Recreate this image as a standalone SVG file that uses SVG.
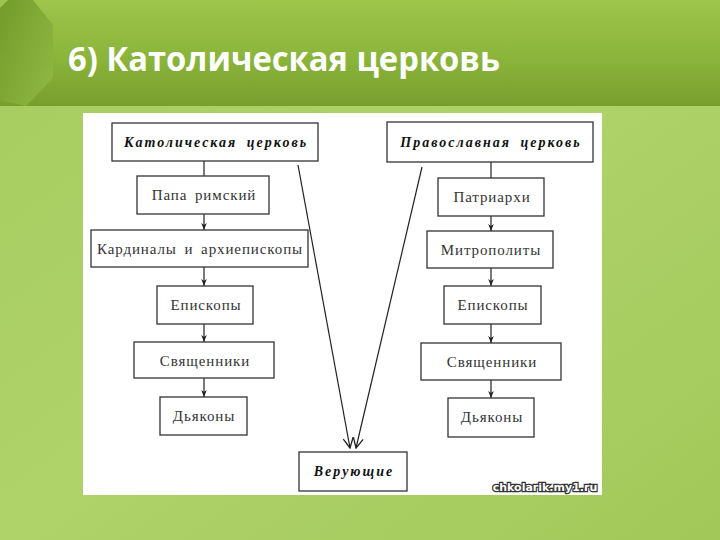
<svg xmlns="http://www.w3.org/2000/svg" width="720" height="540" viewBox="0 0 720 540">
<defs>
<linearGradient id="band" x1="0" y1="0" x2="0" y2="1">
<stop offset="0" stop-color="#9fc54b"/>
<stop offset="0.55" stop-color="#8ab43a"/>
<stop offset="1" stop-color="#789f2e"/>
</linearGradient>
<linearGradient id="bg" x1="0" y1="0" x2="1" y2="1">
<stop offset="0" stop-color="#a6cc5e"/>
<stop offset="0.5" stop-color="#afd269"/>
<stop offset="1" stop-color="#a2c859"/>
</linearGradient>
<linearGradient id="hex" x1="0" y1="0" x2="1" y2="1">
<stop offset="0" stop-color="#6a9424"/>
<stop offset="1" stop-color="#94bd48"/>
</linearGradient>
<marker id="ah" viewBox="0 0 10 10" refX="10" refY="5" markerWidth="7" markerHeight="7" orient="auto" markerUnits="userSpaceOnUse">
<path d="M0,1 L10,5 L0,9 L3,5 Z" fill="#222"/>
</marker>
<marker id="oa" viewBox="0 0 12 12" refX="11" refY="6" markerWidth="12" markerHeight="12" orient="auto" markerUnits="userSpaceOnUse">
<path d="M1,1 L11,6 L1,11" fill="none" stroke="#222" stroke-width="1.3"/>
</marker>
</defs>
<style>
.box{fill:#fff;stroke:#333;stroke-width:1.3}
.t{font-family:"Liberation Serif","DejaVu Serif",serif;font-size:15px;fill:#333;text-anchor:middle;letter-spacing:0.9px;word-spacing:3px}
.h{font-family:"Liberation Serif","DejaVu Serif",serif;font-size:14px;font-weight:bold;font-style:italic;fill:#111;text-anchor:middle;letter-spacing:2px;word-spacing:4px}
.c{stroke:#222;stroke-width:1.2;fill:none}
</style>
<rect x="0" y="0" width="720" height="540" fill="url(#bg)"/>
<rect x="0" y="0" width="720" height="106" fill="url(#band)"/>
<polygon points="8,0 33,0 53,25 53,78 26,106 0,100 0,8" fill="url(#hex)" opacity="0.85"/>
<text x="68" y="71" font-family="'Open Sans','DejaVu Sans',sans-serif" font-weight="bold" font-size="34" fill="#fff" textLength="432" lengthAdjust="spacingAndGlyphs">6) Католическая церковь</text>
<rect x="83" y="113" width="519" height="382" fill="#fff"/>
<g id="connectors">
<line class="c" x1="204" y1="161" x2="204" y2="176"/>
<line class="c" x1="204" y1="214" x2="204" y2="230" marker-end="url(#ah)"/>
<line class="c" x1="204" y1="267" x2="204" y2="286" marker-end="url(#ah)"/>
<line class="c" x1="204" y1="324" x2="204" y2="342" marker-end="url(#ah)"/>
<line class="c" x1="204" y1="378" x2="204" y2="397" marker-end="url(#ah)"/>
<line class="c" x1="491" y1="162" x2="491" y2="178"/>
<line class="c" x1="491" y1="216" x2="491" y2="231" marker-end="url(#ah)"/>
<line class="c" x1="491" y1="268" x2="491" y2="286" marker-end="url(#ah)"/>
<line class="c" x1="491" y1="324" x2="491" y2="343" marker-end="url(#ah)"/>
<line class="c" x1="491" y1="380" x2="491" y2="398" marker-end="url(#ah)"/>
<line class="c" x1="298" y1="165" x2="350" y2="448" marker-end="url(#oa)"/>
<line class="c" x1="422" y1="167" x2="356" y2="448" marker-end="url(#oa)"/>
</g>
<g id="cat">
<rect class="box" x="112" y="123" width="206" height="38"/>
<text class="h" x="216" y="147">Католическая церковь</text>
</g>
<g id="papa">
<rect class="box" x="137" y="176" width="132" height="38"/>
<text class="t" x="204" y="200">Папа римский</text>
</g>
<g id="cardinals">
<rect class="box" x="91" y="230" width="217" height="37"/>
<text class="t" x="200" y="254">Кардиналы и архиепископы</text>
</g>
<g id="episk-l">
<rect class="box" x="157" y="286" width="96" height="38"/>
<text class="t" x="206" y="310">Епископы</text>
</g>
<g id="svyash-l">
<rect class="box" x="134" y="342" width="140" height="36"/>
<text class="t" x="205" y="366">Священники</text>
</g>
<g id="dyak-l">
<rect class="box" x="160" y="397" width="87" height="38"/>
<text class="t" x="204" y="421">Дьяконы</text>
</g>
<g id="orth">
<rect class="box" x="387" y="122" width="206" height="40"/>
<text class="h" x="491" y="147">Православная церковь</text>
</g>
<g id="patr">
<rect class="box" x="438" y="178" width="106" height="38"/>
<text class="t" x="492" y="202">Патриархи</text>
</g>
<g id="mitr">
<rect class="box" x="427" y="231" width="126" height="37"/>
<text class="t" x="491" y="255">Митрополиты</text>
</g>
<g id="episk-r">
<rect class="box" x="444" y="286" width="97" height="38"/>
<text class="t" x="493" y="310">Епископы</text>
</g>
<g id="svyash-r">
<rect class="box" x="421" y="343" width="140" height="37"/>
<text class="t" x="492" y="367">Священники</text>
</g>
<g id="dyak-r">
<rect class="box" x="448" y="398" width="86" height="39"/>
<text class="t" x="492" y="422">Дьяконы</text>
</g>
<g id="ver">
<rect class="box" x="299" y="452" width="108" height="39"/>
<text class="h" x="354" y="476">Верующие</text>
</g>
<text x="545" y="491" font-family="'DejaVu Sans','Liberation Sans',sans-serif" font-weight="bold" font-size="11" fill="#fff" stroke="#333" stroke-width="2.5" paint-order="stroke" text-anchor="middle">chkolarik.my1.ru</text>
</svg>
